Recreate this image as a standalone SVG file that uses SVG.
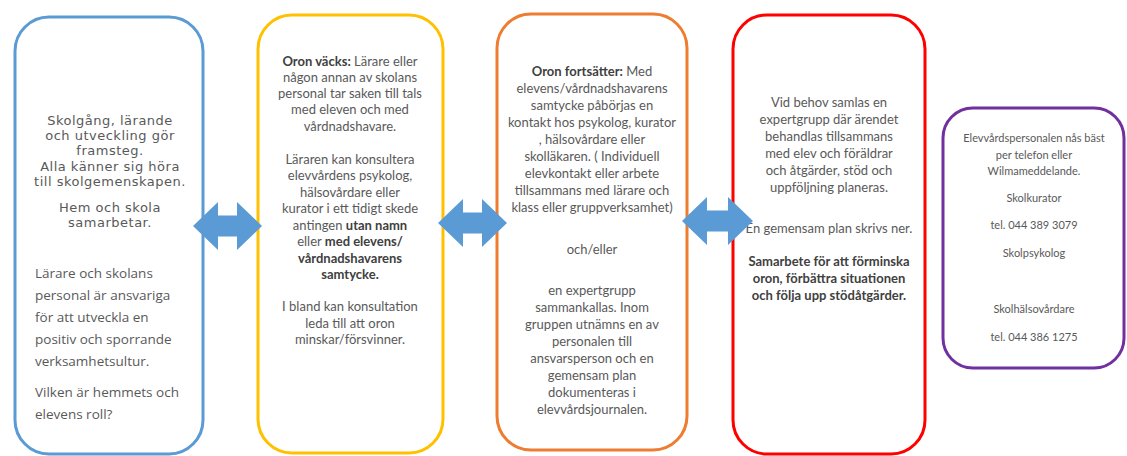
<svg xmlns="http://www.w3.org/2000/svg" width="1127" height="456" viewBox="0 0 1127 456">
<style>
.box{fill:#ffffff;stroke-width:3}
.t{font-family:Lato,"Liberation Sans",sans-serif;font-size:13px;fill:#595959;text-anchor:middle}
.o{font-family:"Open Sans","Liberation Sans",sans-serif;font-size:13.5px;fill:#595959}
.oc{font-family:"DejaVu Sans","Liberation Sans",sans-serif;font-size:13px;letter-spacing:0.5px;fill:#595959;text-anchor:middle}
.s{font-family:Lato,"Liberation Sans",sans-serif;font-size:11px;fill:#595959;text-anchor:middle}
.b{font-weight:bold;fill:#404040}
.arr{fill:#5B9BD5}
</style>
<rect width="1127" height="456" fill="#ffffff"/>
<g id="box1">
<rect class="box" x="15" y="17" width="188" height="437" rx="34" stroke="#5B9BD5"/>
<g class="oc">
<text x="110" y="125">Skolgång, lärande</text>
<text x="110" y="140.2">och utveckling gör</text>
<text x="110" y="155.4">framsteg.</text>
<text x="110" y="170.6">Alla känner sig höra</text>
<text x="110" y="185.8">till skolgemenskapen.</text>
<text x="110" y="212">Hem och skola</text>
<text x="110" y="227.2">samarbetar.</text>
</g>
<g class="o">
<text x="35" y="278">Lärare och skolans</text>
<text x="35" y="300">personal är ansvariga</text>
<text x="35" y="322">för att utveckla en</text>
<text x="35" y="344">positiv och sporrande</text>
<text x="35" y="366">verksamhetsultur.</text>
<text x="35" y="397">Vilken är hemmets och</text>
<text x="35" y="419">elevens roll?</text>
</g>
</g>
<g id="box2">
<rect class="box" x="258" y="15" width="185" height="438" rx="34" stroke="#FFC000"/>
<g class="t">
<text x="350" y="66"><tspan class="b">Oron väcks:</tspan> Lärare eller</text>
<text x="350" y="82">någon annan av skolans</text>
<text x="350" y="98">personal tar saken till tals</text>
<text x="350" y="114">med eleven och  med</text>
<text x="350" y="131">vårdnadshavare.</text>
<text x="350" y="164">Läraren kan konsultera</text>
<text x="350" y="180">elevvårdens psykolog,</text>
<text x="350" y="197">hälsovårdare eller</text>
<text x="350" y="213">kurator i ett tidigt skede</text>
<text x="350" y="230">antingen <tspan class="b">utan namn</tspan></text>
<text x="350" y="246">eller <tspan class="b">med elevens/</tspan></text>
<text x="350" y="263" class="b">vårdnadshavarens</text>
<text x="350" y="279" class="b">samtycke.</text>
<text x="350" y="311">I bland kan konsultation</text>
<text x="350" y="328">leda till att oron</text>
<text x="350" y="344">minskar/försvinner.</text>
</g>
</g>
<g id="box3">
<rect class="box" x="497" y="14" width="190" height="436" rx="34" stroke="#ED7D31"/>
<g class="t">
<text x="592" y="76"><tspan class="b">Oron fortsätter:</tspan> Med</text>
<text x="592" y="93">elevens/vårdnadshavarens</text>
<text x="592" y="110">samtycke påbörjas en</text>
<text x="592" y="127">kontakt hos psykolog, kurator</text>
<text x="592" y="144">, hälsovårdare eller</text>
<text x="592" y="161">skolläkaren. ( Individuell</text>
<text x="592" y="178">elevkontakt eller arbete</text>
<text x="592" y="195">tillsammans med lärare och</text>
<text x="592" y="212">klass eller gruppverksamhet)</text>
<text x="592" y="254">och/eller</text>
<text x="592" y="295">en expertgrupp</text>
<text x="592" y="312">sammankallas. Inom</text>
<text x="592" y="329">gruppen utnämns en av</text>
<text x="592" y="346">personalen till</text>
<text x="592" y="363">ansvarsperson och en</text>
<text x="592" y="380">gemensam plan</text>
<text x="592" y="397">dokumenteras i</text>
<text x="592" y="414">elevvårdsjournalen.</text>
</g>
</g>
<g id="box4">
<rect class="box" x="733" y="15" width="192" height="439" rx="34" stroke="#FF0000"/>
<g class="t">
<text x="829" y="107">Vid behov samlas en</text>
<text x="829" y="124">expertgrupp där ärendet</text>
<text x="829" y="141">behandlas tillsammans</text>
<text x="829" y="158">med elev och föräldrar</text>
<text x="829" y="175">och åtgärder, stöd och</text>
<text x="829" y="192">uppföljning planeras.</text>
<text x="829" y="233">En gemensam plan skrivs ner.</text>
<text x="829" y="266" class="b">Samarbete för att förminska</text>
<text x="829" y="283" class="b">oron, förbättra situationen</text>
<text x="829" y="300" class="b">och följa upp stödåtgärder.</text>
</g>
</g>
<g id="box5">
<rect class="box" x="943" y="108" width="181" height="260" rx="30" stroke="#7030A0"/>
<g class="s">
<text x="1034" y="142">Elevvårdspersonalen nås bäst</text>
<text x="1034" y="159">per telefon  eller</text>
<text x="1034" y="175">Wilmameddelande.</text>
<text x="1034" y="202">Skolkurator</text>
<text x="1034" y="229">tel. 044 389 3079</text>
<text x="1034" y="257">Skolpsykolog</text>
<text x="1034" y="313">Skolhälsovårdare</text>
<text x="1034" y="341">tel. 044 386 1275</text>
</g>
</g>
<g id="connectors">
<path class="arr" d="M193,226 L218,202 L218,215.5 L237,215.5 L237,202 L262,226 L237,250 L237,236.5 L218,236.5 L218,250 Z"/>
<path class="arr" d="M438,223 L463,199 L463,212.5 L482,212.5 L482,199 L507,223 L482,247 L482,233.5 L463,233.5 L463,247 Z"/>
<path class="arr" d="M682,221 L707,197 L707,210.5 L728,210.5 L728,197 L753,221 L728,245 L728,231.5 L707,231.5 L707,245 Z"/>
</g>
</svg>
